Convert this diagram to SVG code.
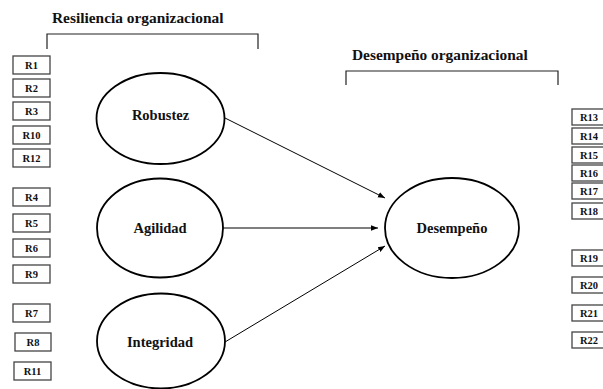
<svg xmlns="http://www.w3.org/2000/svg" width="603" height="389" viewBox="0 0 603 389">
  <defs>
    <marker id="arrow" viewBox="0 0 10 10" refX="10" refY="5" markerWidth="7" markerHeight="7" markerUnits="userSpaceOnUse" orient="auto">
      <path d="M0,1 L10,5 L0,9 z" fill="#000"/>
    </marker>
  </defs>
  <style>
    .title { font-family: "Liberation Serif", "Times New Roman", serif; font-weight: bold; font-size: 15.4px; fill: #111; }
    .lat { fill: #fff; stroke: #000; stroke-width: 1.8; }
    .lat-t { font-family: "Liberation Serif", "Times New Roman", serif; font-weight: bold; font-size: 14.5px; fill: #111; text-anchor: middle; }
    .ind { fill: #fff; stroke: #444; stroke-width: 1.3; }
    .ind-t { font-family: "Liberation Serif", "Times New Roman", serif; font-weight: bold; font-size: 10.5px; fill: #111; text-anchor: middle; }
    .brace { fill: none; stroke: #222; stroke-width: 1.2; }
    .path { fill: none; stroke: #000; stroke-width: 1; marker-end: url(#arrow); }
  </style>
  <rect width="603" height="389" fill="#fff"/>

  <!-- group headings with brackets -->
  <g id="heading-resiliencia">
    <text class="title" x="52" y="23">Resiliencia organizacional</text>
    <path class="brace" d="M47,49 V34 H258 V49"/>
  </g>
  <g id="heading-desempeno">
    <text class="title" x="352" y="60">Desempeño organizacional</text>
    <path class="brace" d="M346,85 V71 H558 V85"/>
  </g>

  <!-- indicators, left -->
  <g id="ind-left">
    <g id="R1"><rect class="ind" x="13" y="56" width="37" height="18"/><text class="ind-t" x="31.5" y="68.5">R1</text></g>
    <g id="R2"><rect class="ind" x="13" y="79" width="37" height="18"/><text class="ind-t" x="31.5" y="91.5">R2</text></g>
    <g id="R3"><rect class="ind" x="13" y="102" width="37" height="18"/><text class="ind-t" x="31.5" y="114.5">R3</text></g>
    <g id="R10"><rect class="ind" x="13" y="126" width="37" height="18"/><text class="ind-t" x="31.5" y="138.5">R10</text></g>
    <g id="R12"><rect class="ind" x="13" y="149" width="37" height="18"/><text class="ind-t" x="31.5" y="161.5">R12</text></g>
    <g id="R4"><rect class="ind" x="13" y="188" width="37" height="18"/><text class="ind-t" x="31.5" y="200.5">R4</text></g>
    <g id="R5"><rect class="ind" x="13" y="214" width="37" height="18"/><text class="ind-t" x="31.5" y="226.5">R5</text></g>
    <g id="R6"><rect class="ind" x="13" y="239" width="37" height="18"/><text class="ind-t" x="31.5" y="251.5">R6</text></g>
    <g id="R9"><rect class="ind" x="13" y="265" width="37" height="18"/><text class="ind-t" x="31.5" y="277.5">R9</text></g>
    <g id="R7"><rect class="ind" x="13" y="304" width="37" height="18"/><text class="ind-t" x="31.5" y="316.5">R7</text></g>
    <g id="R8"><rect class="ind" x="15" y="333" width="36" height="18"/><text class="ind-t" x="33" y="345.5">R8</text></g>
    <g id="R11"><rect class="ind" x="14" y="362" width="37" height="18"/><text class="ind-t" x="32.5" y="374.5">R11</text></g>
  </g>

  <!-- indicators, right -->
  <g id="ind-right">
    <g id="R13"><rect class="ind" x="572" y="109" width="33" height="16"/><text class="ind-t" x="589" y="120.5">R13</text></g>
    <g id="R14"><rect class="ind" x="572" y="128" width="33" height="16"/><text class="ind-t" x="589" y="139.5">R14</text></g>
    <g id="R15"><rect class="ind" x="572" y="147" width="33" height="16"/><text class="ind-t" x="589" y="158.5">R15</text></g>
    <g id="R16"><rect class="ind" x="572" y="165" width="33" height="16"/><text class="ind-t" x="589" y="176.5">R16</text></g>
    <g id="R17"><rect class="ind" x="572" y="183" width="33" height="16"/><text class="ind-t" x="589" y="194.5">R17</text></g>
    <g id="R18"><rect class="ind" x="572" y="203" width="33" height="16"/><text class="ind-t" x="589" y="214.5">R18</text></g>
    <g id="R19"><rect class="ind" x="572" y="250" width="33" height="16"/><text class="ind-t" x="589" y="261.5">R19</text></g>
    <g id="R20"><rect class="ind" x="572" y="277" width="33" height="16"/><text class="ind-t" x="589" y="288.5">R20</text></g>
    <g id="R21"><rect class="ind" x="572" y="305" width="33" height="16"/><text class="ind-t" x="589" y="316.5">R21</text></g>
    <g id="R22"><rect class="ind" x="572" y="332" width="33" height="16"/><text class="ind-t" x="589" y="343.5">R22</text></g>
  </g>

  <!-- latent constructs -->
  <g id="robustez"><ellipse class="lat" cx="160.5" cy="118.5" rx="64" ry="45.5"/><text class="lat-t" x="160.5" y="120">Robustez</text></g>
  <g id="agilidad"><ellipse class="lat" cx="160" cy="228" rx="63" ry="49.5"/><text class="lat-t" x="160" y="233">Agilidad</text></g>
  <g id="integridad"><ellipse class="lat" cx="161" cy="341" rx="64" ry="47.5"/><text class="lat-t" x="160" y="347">Integridad</text></g>
  <g id="desempeno"><ellipse class="lat" cx="452" cy="228" rx="67" ry="50"/><text class="lat-t" x="452" y="233">Desempeño</text></g>

  <!-- structural paths -->
  <g id="connectors">
    <line class="path" x1="225" y1="118" x2="385" y2="198"/>
    <line class="path" x1="223" y1="228" x2="378" y2="228"/>
    <line class="path" x1="225" y1="342" x2="385" y2="246"/>
  </g>
</svg>
